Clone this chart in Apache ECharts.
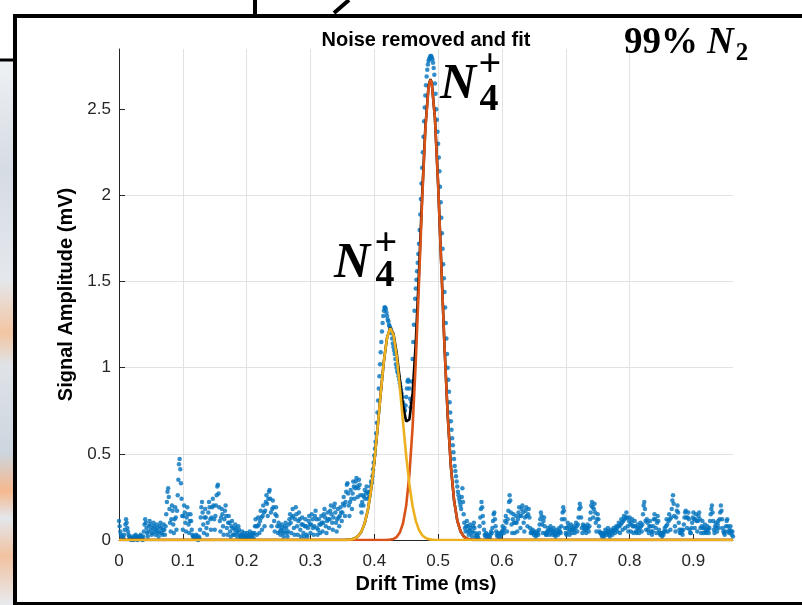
<!DOCTYPE html>
<html><head><meta charset="utf-8">
<script src="https://cdn.jsdelivr.net/npm/echarts@6/dist/echarts.min.js"></script>
<style>html,body{margin:0;padding:0;background:#fff;}#c{width:802px;height:605px;}</style>
</head><body><div id="c"></div>
<script>
// sampling step of the measured signal (ms)
const DT = 0.001;
// measured signal amplitude (mV), one array per 0.1 ms
const amp000 = [
0.11,0.08,0.05,0.03,0.02,0.01,0.02,0.01,0.03,0.06,
0.09,0.12,0.10,0.07,0.05,0.03,0.02,0.01,0.01,0.00,
0.01,0.02,0.01,0.00,0.01,0.02,0.03,0.02,0.01,0.00,
0.01,0.02,0.01,0.02,0.03,0.02,0.01,0.00,0.02,0.05,
0.09,0.12,0.10,0.07,0.04,0.02,0.05,0.08,0.11,0.09,
0.06,0.03,0.04,0.07,0.10,0.08,0.05,0.03,0.06,0.09,
0.07,0.04,0.02,0.05,0.08,0.10,0.07,0.04,0.03,0.06,
0.09,0.06,0.03,0.08,0.15,0.22,0.28,0.30,0.25,0.18,
0.10,0.05,0.12,0.20,0.17,0.09,0.04,0.12,0.19,0.13,
0.06,0.17,0.26,0.35,0.44,0.47,0.41,0.33,0.24,0.14];
const amp010 = [
0.06,0.14,0.20,0.16,0.10,0.05,0.13,0.19,0.15,0.09,
0.04,0.11,0.15,0.11,0.06,0.03,0.02,0.02,0.01,0.02,
0.01,0.03,0.02,0.01,0.00,0.02,0.01,0.06,0.13,0.19,
0.22,0.16,0.09,0.04,0.13,0.18,0.13,0.07,0.03,0.10,
0.16,0.22,0.19,0.12,0.06,0.13,0.19,0.24,0.20,0.12,
0.06,0.14,0.20,0.26,0.31,0.32,0.27,0.19,0.11,0.05,
0.13,0.18,0.15,0.08,0.03,0.12,0.17,0.20,0.14,0.07,
0.03,0.10,0.14,0.10,0.05,0.02,0.08,0.11,0.07,0.03,
0.03,0.06,0.09,0.07,0.04,0.02,0.05,0.08,0.06,0.03,
0.02,0.01,0.03,0.05,0.03,0.01,0.02,0.04,0.02,0.01];
const amp020 = [
0.02,0.04,0.02,0.01,0.03,0.05,0.03,0.01,0.02,0.04,
0.03,0.01,0.04,0.08,0.12,0.08,0.03,0.08,0.13,0.09,
0.04,0.11,0.17,0.13,0.06,0.14,0.20,0.16,0.08,0.17,
0.22,0.26,0.21,0.14,0.24,0.28,0.29,0.24,0.16,0.08,
0.18,0.23,0.19,0.11,0.05,0.15,0.19,0.14,0.08,0.04,
0.10,0.08,0.05,0.03,0.06,0.09,0.07,0.04,0.02,0.05,
0.08,0.10,0.07,0.04,0.02,0.05,0.09,0.12,0.15,0.10,
0.04,0.13,0.18,0.14,0.07,0.03,0.12,0.19,0.15,0.08,
0.03,0.11,0.16,0.12,0.06,0.02,0.09,0.13,0.09,0.04,
0.02,0.08,0.12,0.08,0.03,0.02,0.07,0.11,0.14,0.09];
const amp030 = [
0.04,0.09,0.15,0.12,0.07,0.03,0.08,0.14,0.17,0.12,
0.07,0.03,0.06,0.12,0.09,0.04,0.09,0.14,0.10,0.05,
0.10,0.15,0.18,0.13,0.08,0.04,0.11,0.16,0.12,0.07,
0.12,0.17,0.20,0.15,0.10,0.06,0.13,0.19,0.21,0.16,
0.10,0.05,0.12,0.18,0.13,0.08,0.14,0.19,0.16,0.11,
0.16,0.21,0.25,0.20,0.14,0.22,0.28,0.32,0.33,0.27,
0.20,0.14,0.22,0.29,0.24,0.18,0.27,0.34,0.31,0.24,
0.30,0.34,0.36,0.31,0.25,0.30,0.35,0.32,0.26,0.20,
0.16,0.22,0.26,0.20,0.25,0.29,0.24,0.27,0.31,0.28,
0.24,0.27,0.25,0.28,0.31,0.34,0.33,0.37,0.41,0.45];
const amp040 = [
0.49,0.53,0.57,0.62,0.68,0.74,0.81,0.88,0.95,1.02,
1.09,1.15,1.21,1.26,1.30,1.33,1.35,1.35,1.34,1.32,
1.30,1.28,1.27,1.25,1.24,1.23,1.22,1.20,1.17,1.14,
1.12,1.10,1.08,1.05,1.02,1.00,0.98,0.97,0.95,0.93,
0.91,0.89,0.87,0.85,0.83,0.80,0.78,0.76,0.75,0.78,
0.83,0.88,0.92,0.93,0.92,0.88,0.82,0.77,0.80,0.92,
1.05,1.15,1.25,1.33,1.40,1.46,1.51,1.56,1.61,1.66,
1.72,1.80,1.89,1.98,2.07,2.16,2.25,2.34,2.43,2.51,
2.58,2.64,2.69,2.73,2.76,2.78,2.79,2.80,2.81,2.81,
2.80,2.79,2.77,2.74,2.70,2.65,2.59,2.50,2.44,2.37];
const amp050 = [
2.30,2.22,2.14,2.05,1.96,1.87,1.78,1.69,1.60,1.52,
1.44,1.35,1.26,1.17,1.08,1.00,0.93,0.86,0.80,0.74,
0.69,0.64,0.59,0.55,0.51,0.47,0.43,0.40,0.37,0.34,
0.31,0.28,0.26,0.24,0.22,0.20,0.18,0.25,0.30,0.22,
0.15,0.10,0.07,0.05,0.08,0.11,0.08,0.05,0.03,0.06,
0.09,0.07,0.04,0.02,0.05,0.08,0.10,0.07,0.04,0.02,
0.01,0.03,0.02,0.01,0.04,0.08,0.13,0.18,0.22,0.19,
0.14,0.10,0.06,0.03,0.02,0.04,0.03,0.01,0.02,0.03,
0.02,0.01,0.03,0.05,0.04,0.07,0.11,0.15,0.16,0.12,
0.08,0.05,0.03,0.02,0.04,0.03,0.01,0.02,0.04,0.03];
const amp060 = [
0.05,0.08,0.06,0.04,0.07,0.11,0.14,0.10,0.05,0.12,
0.17,0.22,0.26,0.23,0.16,0.09,0.04,0.12,0.15,0.10,
0.04,0.10,0.14,0.10,0.05,0.12,0.16,0.19,0.14,0.07,
0.14,0.18,0.20,0.16,0.10,0.05,0.13,0.17,0.19,0.14,
0.08,0.15,0.18,0.13,0.07,0.04,0.05,0.04,0.06,0.04,
0.03,0.05,0.04,0.02,0.03,0.05,0.04,0.03,0.06,0.09,
0.12,0.16,0.14,0.09,0.04,0.11,0.13,0.08,0.04,0.03,
0.03,0.05,0.07,0.05,0.03,0.06,0.08,0.06,0.04,0.03,
0.05,0.07,0.05,0.03,0.02,0.04,0.06,0.04,0.03,0.05,
0.07,0.05,0.04,0.08,0.12,0.16,0.19,0.17,0.12,0.07];
const amp070 = [
0.04,0.03,0.07,0.10,0.08,0.05,0.03,0.06,0.09,0.07,
0.04,0.06,0.08,0.06,0.04,0.07,0.10,0.08,0.05,0.09,
0.13,0.18,0.21,0.19,0.13,0.07,0.04,0.09,0.08,0.06,
0.08,0.06,0.04,0.07,0.09,0.07,0.05,0.08,0.12,0.16,
0.20,0.22,0.19,0.13,0.18,0.21,0.16,0.10,0.05,0.12,
0.15,0.12,0.08,0.05,0.04,0.04,0.03,0.02,0.04,0.03,
0.02,0.04,0.06,0.04,0.03,0.05,0.07,0.05,0.03,0.02,
0.04,0.06,0.05,0.03,0.05,0.07,0.06,0.04,0.06,0.08,
0.07,0.05,0.08,0.10,0.08,0.04,0.09,0.12,0.10,0.06,
0.11,0.14,0.12,0.07,0.13,0.16,0.13,0.08,0.05,0.11];
const amp080 = [
0.13,0.09,0.05,0.10,0.12,0.08,0.04,0.08,0.11,0.08,
0.05,0.04,0.07,0.09,0.06,0.04,0.07,0.10,0.08,0.05,
0.09,0.15,0.20,0.22,0.18,0.11,0.06,0.12,0.10,0.06,
0.04,0.08,0.11,0.08,0.05,0.03,0.05,0.08,0.12,0.15,
0.12,0.07,0.04,0.10,0.14,0.11,0.06,0.04,0.03,0.04,
0.03,0.02,0.04,0.03,0.05,0.07,0.05,0.08,0.12,0.09,
0.05,0.11,0.15,0.12,0.06,0.13,0.18,0.23,0.26,0.21,
0.14,0.08,0.05,0.13,0.17,0.20,0.16,0.10,0.06,0.04,
0.04,0.06,0.05,0.03,0.06,0.09,0.13,0.16,0.17,0.13,
0.07,0.13,0.16,0.12,0.06,0.04,0.04,0.07,0.10,0.13];
const amp090 = [
0.16,0.12,0.07,0.12,0.15,0.11,0.05,0.11,0.14,0.16,
0.12,0.07,0.04,0.08,0.11,0.07,0.04,0.07,0.09,0.05,
0.04,0.06,0.08,0.06,0.04,0.07,0.11,0.15,0.18,0.20,
0.16,0.11,0.06,0.04,0.08,0.10,0.07,0.05,0.09,0.11,
0.07,0.12,0.16,0.20,0.17,0.12,0.07,0.05,0.04,0.03,
0.05,0.08,0.11,0.12,0.08,0.05,0.04,0.06,0.08,0.05,
0.03,0.05,0.02];

// fitted curves (mV) sampled at fitX (ms)
const fitX = [0,0.340,0.345,0.350,0.355,0.360,0.365,0.370,0.375,0.380,0.385,0.390,0.395,
0.400,0.405,0.410,0.415,0.420,0.425,0.430,0.435,0.440,0.445,0.450,0.455,0.460,0.465,
0.470,0.475,0.480,0.485,0.488,0.490,0.495,0.500,0.505,0.510,0.515,0.520,0.525,0.530,
0.535,0.540,0.545,0.550,0.555,0.560,0.565,0.570,0.962];
const fitPeak1 = [0,0,0,0.0002,0.0006,0.0016,0.0043,0.0106,0.024,0.050,0.098,0.176,0.293,
0.451,0.643,0.849,1.038,1.174,1.230,1.192,1.070,0.889,0.684,0.487,0.321,0.196,0.111,
0.058,0.028,0.0126,0.0052,0.003,0.002,0.0007,0.0002,0,0,0,0,0,0,
0,0,0,0,0,0,0,0,0];
const fitPeak2 = [0,0,0,0,0,0,0,0,0,0,0,0,0,
0,0,0,0.0002,0.0007,0.0022,0.0064,0.0173,0.043,0.097,0.201,0.379,0.655,1.035,
1.495,1.974,2.382,2.629,2.672,2.653,2.447,2.064,1.592,1.122,0.723,0.426,0.229,0.113,
0.051,0.021,0.0079,0.0027,0.0009,0.0002,0,0,0];
const fitTotal = [0,0,0,0.0002,0.0006,0.0016,0.0043,0.0106,0.024,0.050,0.098,0.176,0.293,
0.451,0.643,0.849,1.038,1.175,1.232,1.198,1.087,0.932,0.781,0.688,0.700,0.851,1.146,
1.553,2.002,2.395,2.634,2.675,2.655,2.448,2.064,1.592,1.122,0.723,0.426,0.229,0.113,
0.051,0.021,0.0079,0.0027,0.0009,0.0002,0,0,0];

const xTicks = [0,0.1,0.2,0.3,0.4,0.5,0.6,0.7,0.8,0.9];
const yTicks = [0,0.5,1,1.5,2,2.5];
const X_MAX = 0.962, Y_MAX = 2.85;

const signal = [].concat(amp000, amp010, amp020, amp030, amp040, amp050, amp060, amp070, amp080, amp090);
const scatterData = signal.map((v, i) => [Math.round(i * DT * 1000) / 1000, v]);
const pairs = arr => fitX.map((x, i) => [x, arr[i]]);

const SANS = '"Liberation Sans", Arial, Helvetica, sans-serif';
const SERIF = '"Liberation Serif", "Times New Roman", serif';
const AX = '#262626';

const chart = echarts.init(document.getElementById('c'), null, {renderer: 'canvas'});

const txt = (x, y, text, font, align) => ({
  type: 'text', x: x, y: y, z: 100, silent: true,
  style: {text: text, font: font, fill: '#000', align: align || 'left', verticalAlign: 'middle'}
});
const seg = (x1, y1, x2, y2, w) => ({
  type: 'line', z: 90, silent: true,
  shape: {x1: x1, y1: y1, x2: x2, y2: y2},
  style: {stroke: '#000', lineWidth: w}
});

chart.setOption({
  animation: false,
  backgroundColor: '#ffffff',
  grid: {left: 119, right: 69, top: 49, bottom: 65, containLabel: false},
  xAxis: {
    type: 'value', min: 0, max: X_MAX, interval: 0.1,
    name: 'Drift Time (ms)', nameLocation: 'middle', nameGap: 36,
    nameTextStyle: {fontFamily: SANS, fontWeight: 'bold', fontSize: 20, color: '#000', verticalAlign: 'middle'},
    axisLine: {show: true, onZero: false, lineStyle: {color: AX, width: 1}},
    axisTick: {show: true, inside: true, length: 6, customValues: xTicks, lineStyle: {color: AX}},
    axisLabel: {fontFamily: SANS, fontSize: 17, color: AX, margin: 13, customValues: xTicks,
      formatter: v => String(v)},
    splitLine: {show: true, showMaxLine: false, lineStyle: {color: '#e2e2e2', width: 1}}
  },
  yAxis: {
    type: 'value', min: 0, max: Y_MAX, interval: 0.5,
    name: 'Signal Amplitude (mV)', nameLocation: 'middle', nameGap: 52,
    nameTextStyle: {fontFamily: SANS, fontWeight: 'bold', fontSize: 20, color: '#000', verticalAlign: 'middle'},
    axisLine: {show: true, onZero: false, lineStyle: {color: AX, width: 1}},
    axisTick: {show: true, inside: true, length: 6, customValues: yTicks, lineStyle: {color: AX}},
    axisLabel: {fontFamily: SANS, fontSize: 17, color: AX, margin: 8, customValues: yTicks,
      formatter: v => String(v)},
    splitLine: {show: true, showMaxLine: false, lineStyle: {color: '#e2e2e2', width: 1}}
  },
  series: [
    {type: 'scatter', name: 'data', data: scatterData, symbol: 'circle', symbolSize: 4.5,
     itemStyle: {color: '#0072BD'}, z: 2, silent: true},
    {type: 'line', name: 'total fit', data: pairs(fitTotal), showSymbol: false, symbol: 'none',
     lineStyle: {color: '#000000', width: 2.6}, z: 3, silent: true},
    {type: 'line', name: 'peak 2', data: pairs(fitPeak2), showSymbol: false, symbol: 'none',
     lineStyle: {color: '#D95319', width: 2.6}, z: 4, silent: true},
    {type: 'line', name: 'peak 1', data: pairs(fitPeak1), showSymbol: false, symbol: 'none',
     lineStyle: {color: '#EDB120', width: 2.6}, z: 5, silent: true}
  ],
  graphic: [
    {type: 'rect', z: 80, silent: true, shape: {x: 0, y: 61, width: 14, height: 544},
     style: {fill: new echarts.graphic.LinearGradient(0, 0, 0, 1, [
       {offset: 0, color: '#eef1f4'}, {offset: 0.2, color: '#d6dce4'},
       {offset: 0.4, color: '#e4e8ed'}, {offset: 0.5, color: '#f3c6a3'},
       {offset: 0.56, color: '#dfe3e8'}, {offset: 0.72, color: '#cdd5de'},
       {offset: 0.79, color: '#f5b88e'}, {offset: 0.84, color: '#e3e7ec'},
       {offset: 0.91, color: '#f2c2a0'}, {offset: 1, color: '#e8ebef'}])}},
    seg(0, 60, 15, 60, 3),
    seg(255, 0, 255, 15, 4),
    seg(349, 0, 334, 13, 4),
    seg(13, 16, 802, 16, 4),
    seg(15, 14, 15, 605, 4),
    seg(13, 603.5, 802, 603.5, 3),
    txt(426, 40, 'Noise removed and fit', 'bold 20px ' + SANS, 'center'),
    txt(624, 43, '99%', 'bold 37px ' + SERIF),
    txt(707, 43.5, 'N', 'italic bold 37px ' + SERIF),
    txt(742, 54, '2', 'bold 25px ' + SERIF, 'center'),
    txt(440, 85, 'N', 'italic bold 50px ' + SERIF),
    txt(490, 66, '+', 'bold 40px ' + SERIF, 'center'),
    txt(489, 100, '4', 'bold 38px ' + SERIF, 'center'),
    txt(334, 264, 'N', 'italic bold 50px ' + SERIF),
    txt(386, 245, '+', 'bold 40px ' + SERIF, 'center'),
    txt(385, 276, '4', 'bold 38px ' + SERIF, 'center')
  ]
});
</script>
</body></html>
